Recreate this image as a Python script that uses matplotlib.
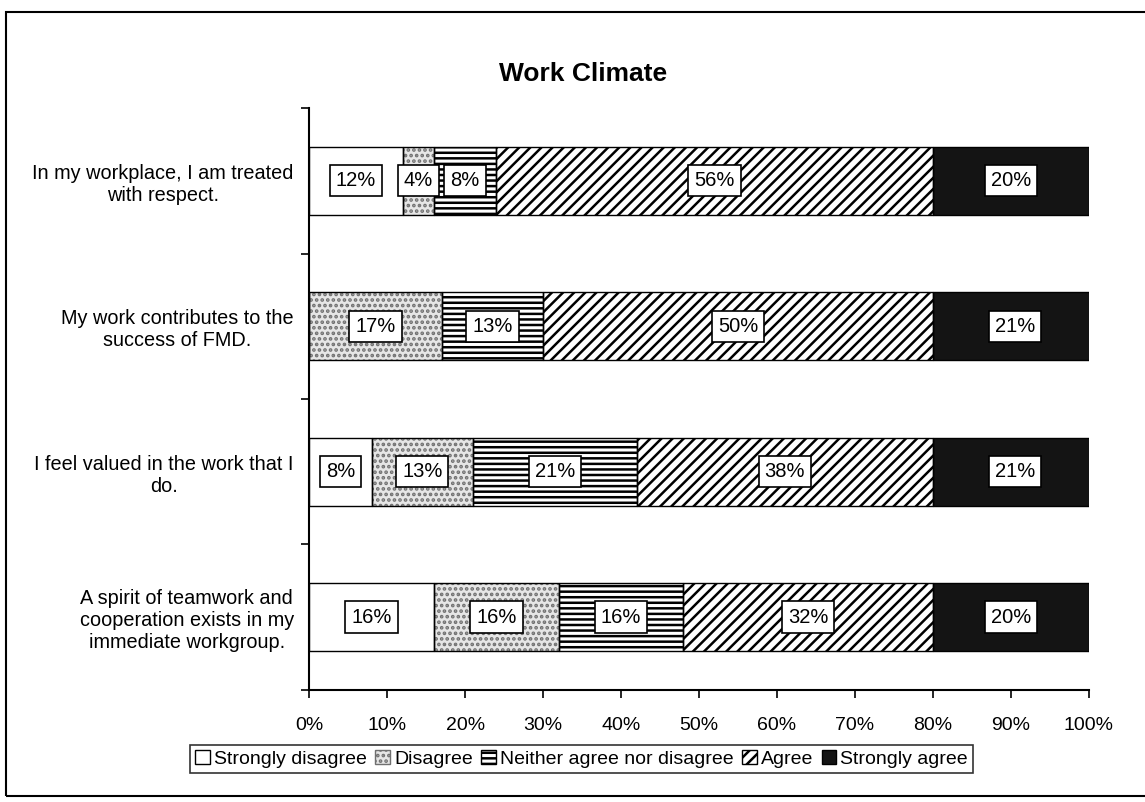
import numpy as np
import matplotlib
matplotlib.use('Agg')
import matplotlib.pyplot as plt
from matplotlib.patches import Rectangle, Patch
from matplotlib.ticker import FuncFormatter

plt.rcParams.update({'font.family': ['Liberation Sans', 'DejaVu Sans'],
                     'hatch.linewidth': 1.8})

# survey items (top to bottom) and response shares in %
questions = ['In my workplace, I am treated\nwith respect.',
             'My work contributes to the\nsuccess of FMD.',
             'I feel valued in the work that I\ndo.',
             'A spirit of teamwork and\ncooperation exists in my\nimmediate workgroup.']
responses = ['Strongly disagree', 'Disagree', 'Neither agree nor disagree',
             'Agree', 'Strongly agree']
strongly_disagree = [12, 0, 8, 16]
disagree = [4, 17, 13, 16]
neither = [8, 13, 21, 16]
agree = [56, 50, 38, 32]
strongly_agree = [20, 21, 21, 20]

series = [strongly_disagree, disagree, neither, agree, strongly_agree]
faces = ['white', '#e6e6e6', 'white', 'white', '#141414']
hatches = [None, '...', '---', '///', None]
# stipple for "Disagree" drawn in grey, outlines stay black
hatch_cols = ['black', '#707070', 'black', 'black', 'black']

fig = plt.figure(figsize=(11.45, 8.02), dpi=100)
ax = fig.add_axes([0.270, 0.140, 0.681, 0.725])

y = np.arange(len(questions))
left = np.zeros(len(questions))
for vals, fc, h, hc in zip(series, faces, hatches, hatch_cols):
    vals = np.array(vals, dtype=float)
    ax.barh(y, vals, left=left, height=0.47, color=fc, hatch=h,
            edgecolor=hc, linewidth=0, zorder=2)
    bars = ax.barh(y, vals, left=left, height=0.47, fill=False,
                   edgecolor='black', linewidth=1.0, zorder=3)
    for b, v in zip(bars, vals):
        if v > 0:
            ax.text(b.get_x() + b.get_width() / 2, b.get_y() + b.get_height() / 2,
                    f'{int(v)}%', ha='center', va='center', fontsize=14.5, zorder=5,
                    bbox=dict(boxstyle='square,pad=0.3', fc='white', ec='black', lw=1.2))
    left += vals

ax.set_xlim(0, 100)
ax.set_ylim(len(questions) - 0.5, -0.5)
ax.set_xticks(np.arange(0, 101, 10))
ax.xaxis.set_major_formatter(FuncFormatter(lambda v, p: f'{int(v)}%'))
ax.tick_params(axis='x', direction='out', length=6, width=1.2, labelsize=14, pad=14)

# category labels without tick marks, tick marks on the band edges
ax.set_yticks(y)
ax.set_yticklabels(questions, fontsize=14.3, multialignment='center')
ax.tick_params(axis='y', which='major', length=0, pad=11)
ax.set_yticks(np.arange(-0.5, len(questions), 1.0), minor=True)
ax.tick_params(axis='y', which='minor', direction='out', length=6, width=1.2)

for side in ['top', 'right']:
    ax.spines[side].set_visible(False)
for side in ['left', 'bottom']:
    ax.spines[side].set_linewidth(1.5)

fig.text(0.509, 0.908, 'Work Climate', ha='center', va='center',
         fontsize=19, fontweight='bold')

handles = [Patch(facecolor=fc, hatch=h, edgecolor=hc, linewidth=1.0)
           for fc, h, hc in zip(faces, hatches, hatch_cols)]
leg = fig.legend(handles, responses, loc='center', bbox_to_anchor=(0.508, 0.054),
                 ncol=5, fontsize=14, frameon=True, fancybox=False,
                 handlelength=0.75, handleheight=0.75, handletextpad=0.2,
                 columnspacing=0.45, borderpad=0.25, borderaxespad=0)
leg.get_frame().set_edgecolor('black')
leg.get_frame().set_linewidth(1.2)

# outer chart border
fig.patches.append(Rectangle((0.005, 0.008), 1.2, 0.977, transform=fig.transFigure,
                             fill=False, edgecolor='black', linewidth=1.5))

fig.savefig('out.png', dpi=100)
